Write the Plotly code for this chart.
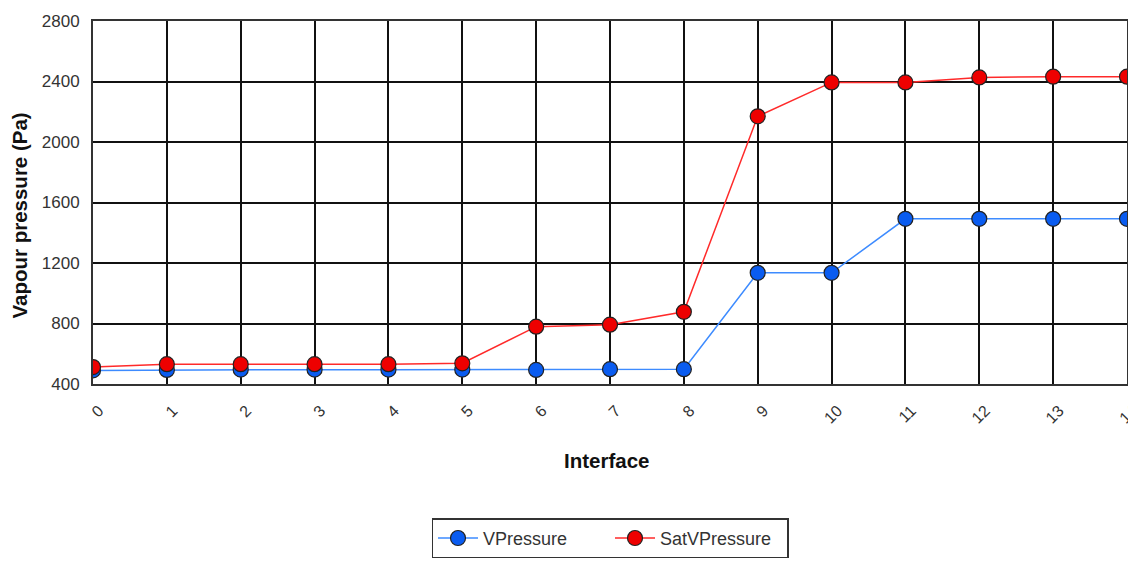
import plotly.graph_objects as go

interfaces = list(range(15))
tick_labels = [str(i) for i in interfaces]
vpressure = [490, 493, 495, 495, 495, 495, 493, 498, 498, 1135, 1135, 1492, 1492, 1492, 1492]
sat_vpressure = [512, 531, 531, 531, 531, 537, 779, 792, 877, 2170, 2394, 2394, 2427, 2432, 2432]

fig = go.Figure()
fig.add_trace(go.Scatter(
    x=interfaces, y=vpressure, name="VPressure", mode="lines+markers",
    line=dict(color="#3d8bff", width=1.5),
    marker=dict(color="#0a5cf0", size=15, line=dict(color="#222222", width=1.2)),
))
fig.add_trace(go.Scatter(
    x=interfaces, y=sat_vpressure, name="SatVPressure", mode="lines+markers",
    line=dict(color="#ff2a2a", width=1.5),
    marker=dict(color="#ee0000", size=15, line=dict(color="#222222", width=1.2)),
))

fig.update_layout(
    width=1128, height=559,
    margin=dict(l=85, r=9, t=13, b=179),
    paper_bgcolor="white", plot_bgcolor="white",
    font=dict(family="Liberation Sans, Arial, sans-serif", size=13, color="#333333"),
    showlegend=True,
    legend=dict(
        orientation="h", x=0.5, xanchor="center", y=-0.37, yanchor="top",
        bordercolor="#333333", borderwidth=1.5,
        font=dict(size=18, color="#333333"),
        itemwidth=40, entrywidth=122, entrywidthmode="pixels",
    ),
    annotations=[
        dict(text="<b>Vapour pressure (Pa)</b>", xref="paper", yref="paper",
             x=-0.071, y=0.463, textangle=-90, showarrow=False,
             xanchor="center", yanchor="middle",
             font=dict(size=20.5, color="#111111")),
        dict(text="<b>Interface</b>", xref="paper", yref="paper",
             x=0.497, y=-0.21, showarrow=False, xanchor="center", yanchor="middle",
             font=dict(size=20.5, color="#111111")),
    ],
)
fig.update_xaxes(
    range=[0, 14], tickmode="array", tickvals=interfaces, ticktext=tick_labels,
    tickangle=-45, showgrid=True, gridcolor="#111111", gridwidth=1.5,
    showline=True, linecolor="#333333", linewidth=2, mirror=True,
    zeroline=False, ticks="", automargin=False,
    ticklabelstandoff=9, ticklabelshift=6, ticklabeloverflow="allow",
    tickfont=dict(size=16, color="#333333"),
)
fig.update_yaxes(
    range=[400, 2800], tickvals=[400, 800, 1200, 1600, 2000, 2400, 2800],
    showgrid=True, gridcolor="#111111", gridwidth=1.5,
    showline=True, linecolor="#333333", linewidth=2, mirror=True,
    zeroline=False, ticks="", automargin=False, ticklabelstandoff=8,
    tickfont=dict(size=17, color="#333333"),
)

fig.write_html("out.html")
